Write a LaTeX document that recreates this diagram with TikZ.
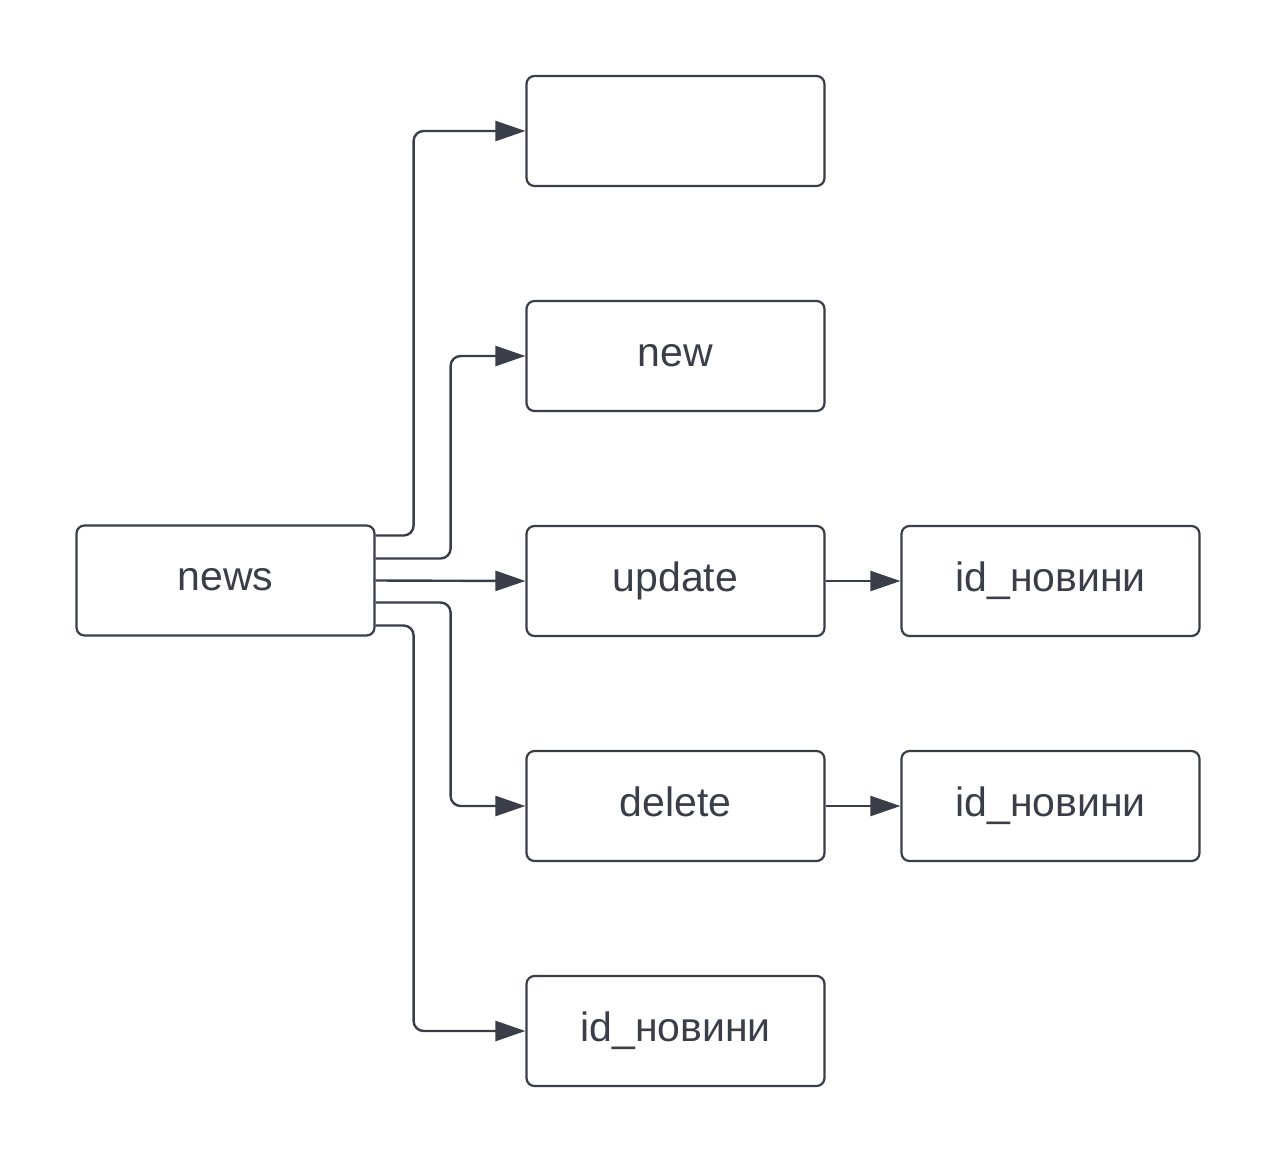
\documentclass[tikz,border=0pt]{standalone}
\usepackage{fontspec}
\setmainfont{Liberation Sans}
\usetikzlibrary{arrows.meta}
\definecolor{ink}{RGB}{58,62,73}
\begin{document}
\begin{tikzpicture}[x=1pt,y=-1pt,
  box/.style={draw=ink,line width=2.2pt,rounded corners=8pt,minimum width=298pt,minimum height=110pt,inner sep=0pt,text=ink,text height=32pt,text depth=12pt,font=\fontsize{41}{48}\selectfont},
  conn/.style={draw=ink,line width=2.4pt,rounded corners=10pt,-{Triangle[length=30pt,width=20pt]}}]
\useasboundingbox (0,0) rectangle (1275,1163);
\node[box] (news) at (225.5,580.5) {news};
\node[box] (top) at (675.5,131) {};
\node[box] (new) at (675.5,356) {new};
\node[box] (update) at (675.5,581) {update};
\node[box] (delete) at (675.5,806) {delete};
\node[box] (idbot) at (675.5,1031) {id\_новини};
\node[box] (id1) at (1050.5,581) {id\_новини};
\node[box] (id2) at (1050.5,806) {id\_новини};
\draw[conn] ([yshift=45pt]news.east) -- ++(38,0) |- (top.west);
\draw[conn] ([yshift=22pt]news.east) -- ++(75,0) |- (new.west);
\draw[conn] (news.east) -- (update.west);
\draw[conn] ([yshift=-22pt]news.east) -- ++(75,0) |- (delete.west);
\draw[conn] ([yshift=-45pt]news.east) -- ++(38,0) |- (idbot.west);
\draw[conn] (update.east) -- (id1.west);
\draw[conn] (delete.east) -- (id2.west);
\end{tikzpicture}
\end{document}
